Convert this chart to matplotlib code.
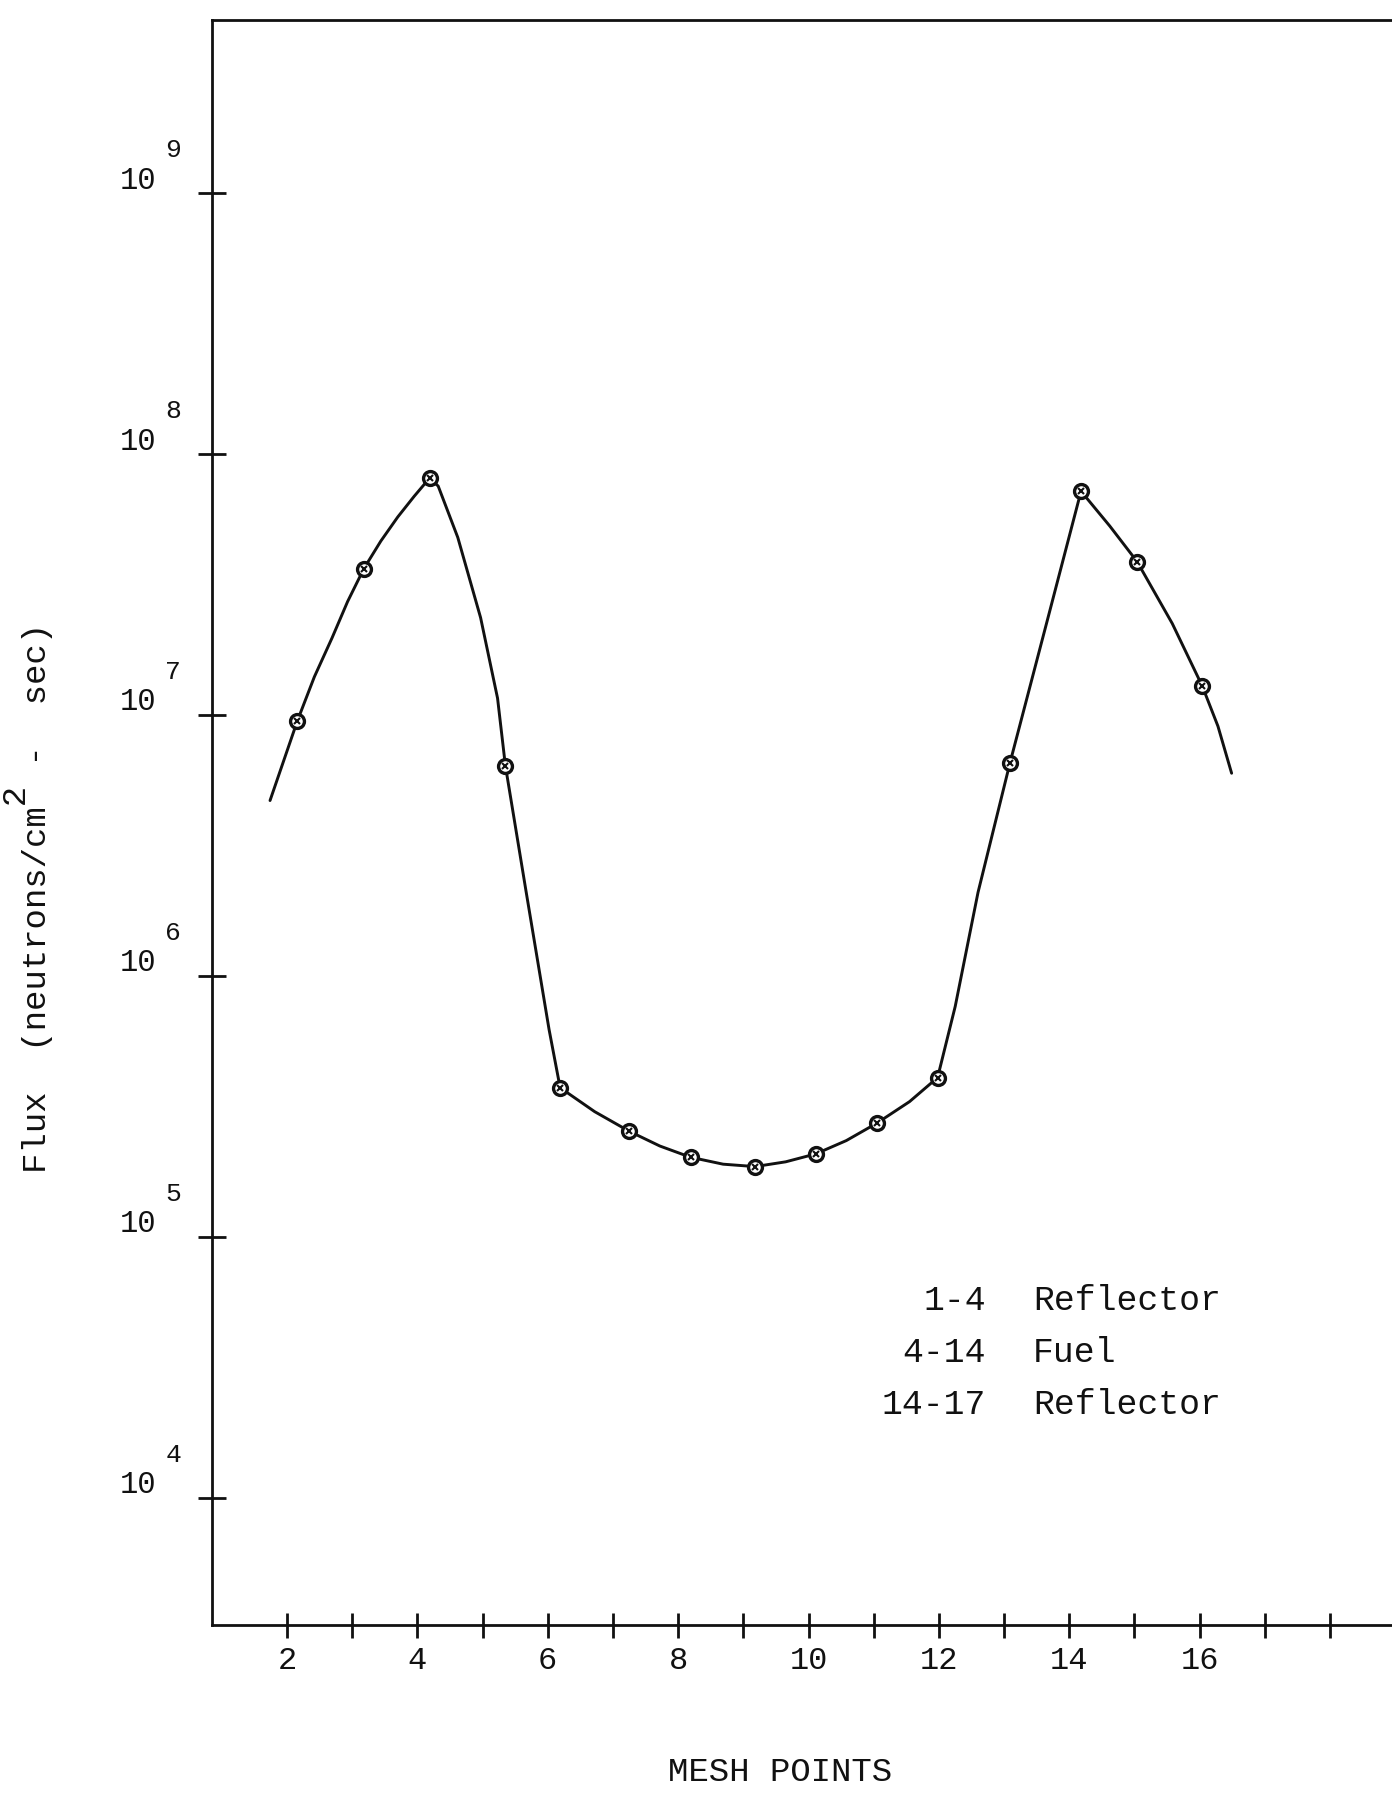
"""
Flux profile across the mesh points (reflector / fuel / reflector)
Re-drawn from a scanned typewriter-style plot.
"""

import matplotlib
matplotlib.use("Agg")
import matplotlib.pyplot as plt

plt.rcParams["font.family"] = ["Liberation Mono", "DejaVu Sans Mono"]

INK = "#111111"

# plotted mesh points (hand placed, so slightly off the integer ticks)
mesh_x = [2.16, 3.18, 4.19, 5.35, 6.19, 7.25, 8.19, 9.18,
          10.11, 11.05, 11.98, 13.09, 14.18, 15.04, 16.04]
flux = [9.5e6, 3.64e7, 8.1e7, 6.4e6, 3.73e5, 2.54e5, 2.02e5, 1.86e5,
        2.08e5, 2.73e5, 4.08e5, 6.55e6, 7.2e7, 3.87e7, 1.29e7]

# hand drawn curve
curve_x = [1.74, 2.16, 2.42, 2.69, 2.93, 3.18, 3.44, 3.70, 3.95, 4.19,
           4.32, 4.62, 4.97, 5.23, 5.35, 5.67, 6.02, 6.19, 6.72, 7.25,
           7.72, 8.19, 8.69, 9.18, 9.65, 10.11, 10.58, 11.05, 11.55, 11.98,
           12.25, 12.60, 13.09, 13.65, 14.18, 14.62, 15.04, 15.58, 16.04,
           16.28, 16.49]
curve_flux = [4.70e6, 9.5e6, 1.40e7, 1.97e7, 2.72e7, 3.64e7, 4.64e7, 5.74e7,
              6.88e7, 8.1e7, 7.53e7, 4.79e7, 2.36e7, 1.16e7, 6.4e6, 2.09e6,
              6.24e5, 3.73e5, 3.02e5, 2.54e5, 2.23e5, 2.02e5, 1.90e5, 1.86e5,
              1.94e5, 2.08e5, 2.34e5, 2.73e5, 3.30e5, 4.08e5, 7.64e5, 2.09e6,
              6.55e6, 2.24e7, 7.2e7, 5.30e7, 3.87e7, 2.24e7, 1.29e7, 9.06e6,
              5.98e6]

decades = [4, 5, 6, 7, 8, 9]
x_ticks = list(range(2, 19))
x_labels = [str(t) if t % 2 == 0 and t < 18 else "" for t in x_ticks]

region_ranges = ["1-4", "4-14", "14-17"]
region_names = ["Reflector", "Fuel", "Reflector"]

W, H = 1392, 1794
fig = plt.figure(figsize=(W / 100, H / 100), dpi=100)
fig.patch.set_facecolor("white")

# axes box in pixels: left edge 212, bottom 1625, top 20, runs off the right edge
ax = fig.add_axes([212 / W, 1 - 1625 / H, 1 - 212 / W, (1625 - 20) / H])
ax.set_yscale("log")
ax.set_xlim(0.85, 18.95)
ax.set_ylim(10 ** 3.513, 10 ** 9.663)

ax.plot(curve_x, curve_flux, color=INK, lw=2.1, solid_joinstyle="round",
        solid_capstyle="round")
ax.plot(mesh_x, flux, "o", ms=10, mfc="white", mec=INK, mew=2.4)
ax.plot(mesh_x, flux, "x", ms=5, mec=INK, mew=1.5)

for side in ["left", "bottom", "top"]:
    ax.spines[side].set_linewidth(2.0)
    ax.spines[side].set_color(INK)
ax.spines["right"].set_visible(False)

ax.set_xticks(x_ticks)
ax.set_xticklabels(x_labels)
ax.tick_params(axis="x", direction="inout", length=18, width=2, color=INK,
               labelsize=23, pad=6, labelcolor=INK)

ax.set_yticks([10.0 ** d for d in decades])
ax.set_yticklabels([])
ax.minorticks_off()
ax.tick_params(axis="y", direction="inout", length=20, width=2, color=INK)

# "10" with the exponent set high and to the right, typewriter style
ytrans = ax.get_yaxis_transform()
for d in decades:
    ax.annotate("10", xy=(0, 10.0 ** d), xycoords=ytrans,
                xytext=(-40, 9), textcoords="offset points",
                ha="right", va="center", fontsize=22, color=INK)
    ax.annotate(str(d), xy=(0, 10.0 ** d), xycoords=ytrans,
                xytext=(-28, 31), textcoords="offset points",
                ha="center", va="center", fontsize=19, color=INK)

# region key
for i, (rng, name) in enumerate(zip(region_ranges, region_names)):
    y = 1 - (1300 + 52 * i) / H
    fig.text(986 / W, y, rng, ha="right", va="center", fontsize=25, color=INK)
    fig.text(1033 / W, y, name, ha="left", va="center", fontsize=25, color=INK)

fig.text(780 / W, 1 - 1772 / H, "MESH POINTS", ha="center", va="center",
         fontsize=24.5, color=INK)

# y label typed on two lines so the squared sign sits raised after "cm"
ylab = " " * 18 + "2\nFlux  (neutrons/cm  -  sec)"
fig.text(2 / W, 1 - 898 / H, ylab, rotation=90, ha="left", va="center",
         multialignment="left", linespacing=0.55, fontsize=24.5, color=INK)

fig.savefig("out.png", dpi=100, facecolor="white")
